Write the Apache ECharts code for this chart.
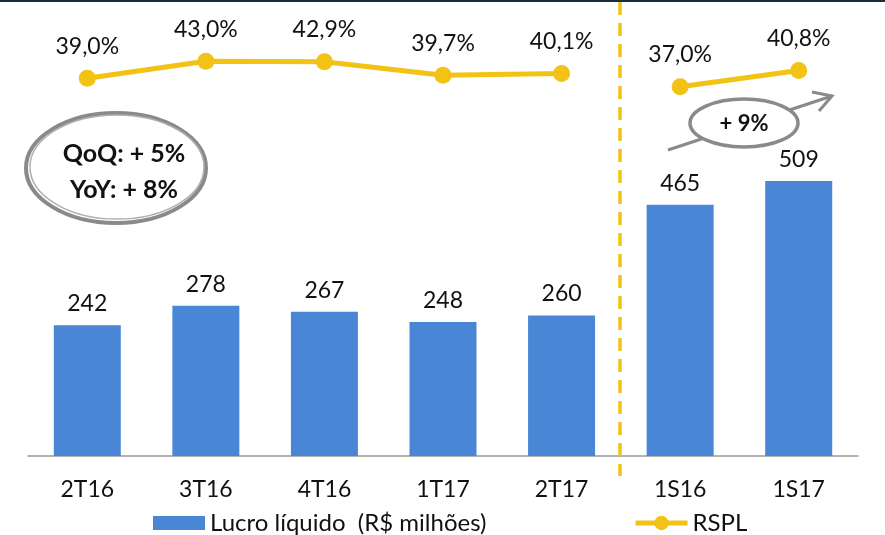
<!DOCTYPE html>
<html>
<head>
<meta charset="utf-8">
<script src="https://cdn.jsdelivr.net/npm/echarts@6/dist/echarts.min.js"></script>
<style>
  html, body { margin: 0; padding: 0; background: #fff; }
  #main { width: 885px; height: 535px; }
</style>
</head>
<body>
<div id="main"></div>
<script>
// categorias e valores
var categorias = ['2T16', '3T16', '4T16', '1T17', '2T17', '1S16', '1S17'];
var lucro = [242, 278, 267, 248, 260, 465, 509];
var rspl = [39.0, 43.0, 42.9, 39.7, 40.1, null, null];
var rsplSemestre = [null, null, null, null, null, 37.0, 40.8];

var AMARELO = '#f2c314';
var AZUL = '#4a86d6';
var FONTE = 'Lato, "Open Sans", sans-serif';

var chart = echarts.init(document.getElementById('main'));

function pct(p) {
  return p.value == null ? '' : p.value.toFixed(1).replace('.', ',') + '%';
}

var legendaTexto = { fontSize: 24, color: '#111', fontFamily: FONTE };

chart.setOption({
  animation: false,
  textStyle: { fontFamily: FONTE },
  grid: { left: 28, right: 27, top: 40, bottom: 79 },
  legend: [
    {
      top: 506, left: 148, itemWidth: 52, itemHeight: 14, itemGap: 0,
      textStyle: legendaTexto,
      data: [{ name: 'Lucro líquido  (R$ milhões)', icon: 'rect' }]
    },
    {
      top: 506, left: 628, itemWidth: 52, itemHeight: 18,
      textStyle: legendaTexto,
      lineStyle: { width: 5 },
      data: ['RSPL']
    }
  ],
  xAxis: {
    type: 'category',
    data: categorias,
    axisLine: { lineStyle: { color: '#9a9a9a', width: 1.5 } },
    axisTick: { length: 12, lineStyle: { color: '#9a9a9a', width: 1.5 } },
    axisLabel: { fontSize: 23, color: '#111', margin: 22 }
  },
  yAxis: [
    { type: 'value', min: 0, max: 770, show: false },
    { type: 'value', min: -50, max: 48, show: false }
  ],
  series: [
    {
      name: 'Lucro líquido  (R$ milhões)',
      type: 'bar',
      data: lucro,
      barWidth: 67,
      itemStyle: { color: AZUL },
      label: { show: true, position: 'top', distance: 10, fontSize: 23, color: '#111' }
    },
    {
      name: 'RSPL',
      type: 'line',
      yAxisIndex: 1,
      data: rspl,
      symbol: 'circle',
      symbolSize: 17,
      lineStyle: { color: AMARELO, width: 5 },
      itemStyle: { color: AMARELO },
      label: { show: true, position: 'top', distance: 12, fontSize: 23, color: '#111', formatter: pct }
    },
    {
      name: 'RSPL',
      type: 'line',
      yAxisIndex: 1,
      data: rsplSemestre,
      symbol: 'circle',
      symbolSize: 17,
      lineStyle: { color: AMARELO, width: 5 },
      itemStyle: { color: AMARELO },
      label: { show: true, position: 'top', distance: 12, fontSize: 23, color: '#111', formatter: pct }
    }
  ],
  graphic: [
    { type: 'rect', shape: { x: 0, y: 0, width: 885, height: 2 }, style: { fill: '#1c2a3e' } },
    {
      type: 'line', z: 10,
      shape: { x1: 620, y1: 2, x2: 620, y2: 476 },
      style: { stroke: AMARELO, lineWidth: 3.5, lineDash: [13, 8] }
    },
    // elipse QoQ / YoY
    { type: 'ellipse', shape: { cx: 116, cy: 168, rx: 90, ry: 55 }, style: { fill: '#fff', stroke: '#8a8a8a', lineWidth: 4 } },
    { type: 'ellipse', shape: { cx: 117, cy: 167, rx: 87, ry: 52 }, style: { fill: 'none', stroke: '#b0b0b0', lineWidth: 1.5 } },
    {
      type: 'text',
      x: 124, y: 154,
      style: { text: 'QoQ: + 5%', fontSize: 25, fontWeight: 'bold', fill: '#111', fontFamily: FONTE, align: 'center', verticalAlign: 'middle' }
    },
    {
      type: 'text',
      x: 124, y: 190,
      style: { text: 'YoY: + 8%', fontSize: 25, fontWeight: 'bold', fill: '#111', fontFamily: FONTE, align: 'center', verticalAlign: 'middle' }
    },
    // seta + 9%
    { type: 'line', shape: { x1: 668, y1: 150, x2: 832, y2: 96 }, style: { stroke: '#8a8a8a', lineWidth: 3 } },
    { type: 'polyline', shape: { points: [[812, 92], [832, 96], [819, 111]] }, style: { stroke: '#8a8a8a', lineWidth: 3, fill: 'none' } },
    { type: 'ellipse', shape: { cx: 744, cy: 123, rx: 54, ry: 24 }, style: { fill: '#fff', stroke: '#8a8a8a', lineWidth: 3.5 } },
    {
      type: 'text',
      x: 744, y: 124,
      style: { text: '+ 9%', fontSize: 22, fontWeight: 'bold', fill: '#111', fontFamily: FONTE, align: 'center', verticalAlign: 'middle' }
    }
  ]
});
</script>
</body>
</html>
